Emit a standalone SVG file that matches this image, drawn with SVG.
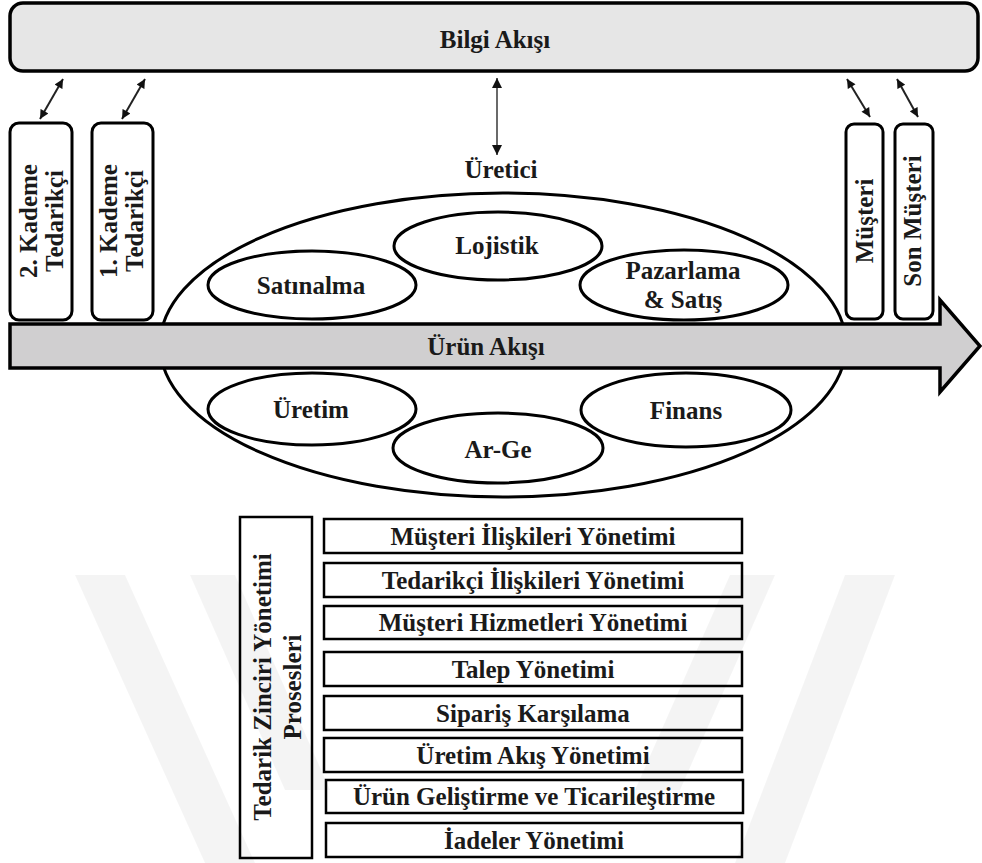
<svg xmlns="http://www.w3.org/2000/svg" width="982" height="863" viewBox="0 0 982 863">
  <defs>
    <style>
      .t { font-family: "Liberation Serif", "Times New Roman", serif; font-weight: bold; font-size: 25px; fill: #1a1a1a; text-anchor: middle; }
      .box { fill: #ffffff; stroke: #000000; stroke-width: 3; }
      .oval { fill: #ffffff; stroke: #000000; stroke-width: 3; }
      .proc { fill: #ffffff; stroke: #000000; stroke-width: 2.5; }
      .link { stroke: #222222; stroke-width: 2; fill: none; marker-start: url(#head); marker-end: url(#head); }
      .vlink { stroke: #444444; stroke-width: 1.6; fill: none; marker-start: url(#headv); marker-end: url(#headv); }
      .mark { fill: #000000; opacity: 0.045; }
    </style>
    <marker id="head" viewBox="0 0 10 10" refX="10" refY="5" markerWidth="10" markerHeight="9" markerUnits="userSpaceOnUse" orient="auto-start-reverse">
      <path d="M0,0 L10,5 L0,10 Z" fill="#111111"/>
    </marker>
    <marker id="headv" viewBox="0 0 10 10" refX="10" refY="5" markerWidth="11" markerHeight="10" markerUnits="userSpaceOnUse" orient="auto-start-reverse">
      <path d="M0,0 L10,5 L0,10 Z" fill="#111111"/>
    </marker>
  </defs>

  <rect x="0" y="0" width="982" height="863" fill="#ffffff"/>

  <!-- information flow bar -->
  <g id="bilgi-akisi">
    <rect x="10" y="3" width="968" height="68" rx="13" ry="13" fill="#e6e6e6" stroke="#000000" stroke-width="3.5"/>
    <text class="t" x="495" y="48">Bilgi Akışı</text>
  </g>

  <!-- producer ellipse -->
  <g id="uretici">
    <text class="t" x="501" y="178">Üretici</text>
    <ellipse class="oval" cx="503" cy="345" rx="343" ry="152"/>
  </g>

  <g id="satinalma">
    <ellipse class="oval" cx="312" cy="285" rx="104" ry="34"/>
    <text class="t" x="311" y="294">Satınalma</text>
  </g>
  <g id="lojistik">
    <ellipse class="oval" cx="498" cy="246" rx="104" ry="34"/>
    <text class="t" x="497" y="254">Lojistik</text>
  </g>
  <g id="pazarlama-satis">
    <ellipse class="oval" cx="684" cy="285" rx="104" ry="35"/>
    <text class="t" x="683" y="279">Pazarlama</text>
    <text class="t" x="683" y="308">&amp; Satış</text>
  </g>
  <g id="uretim">
    <ellipse class="oval" cx="312" cy="409" rx="104" ry="36"/>
    <text class="t" x="311" y="418">Üretim</text>
  </g>
  <g id="ar-ge">
    <ellipse class="oval" cx="498" cy="448" rx="105" ry="35"/>
    <text class="t" x="498" y="458">Ar-Ge</text>
  </g>
  <g id="finans">
    <ellipse class="oval" cx="686" cy="410" rx="105" ry="37"/>
    <text class="t" x="686" y="419">Finans</text>
  </g>

  <!-- supply chain members -->
  <g id="kademe-2">
    <rect class="box" x="10" y="123" width="62" height="197" rx="9" ry="9"/>
    <text class="t" transform="translate(37,221) rotate(-90)">2. Kademe</text>
    <text class="t" transform="translate(63,221) rotate(-90)">Tedarikçi</text>
  </g>
  <g id="kademe-1">
    <rect class="box" x="92" y="123" width="61" height="197" rx="9" ry="9"/>
    <text class="t" transform="translate(117,221) rotate(-90)">1. Kademe</text>
    <text class="t" transform="translate(143,221) rotate(-90)">Tedarikçi</text>
  </g>
  <g id="musteri">
    <rect class="box" x="846" y="124" width="37" height="195" rx="8" ry="8"/>
    <text class="t" transform="translate(873,221) rotate(-90)">Müşteri</text>
  </g>
  <g id="son-musteri">
    <rect class="box" x="895" y="124" width="38" height="195" rx="8" ry="8"/>
    <text class="t" transform="translate(921,221) rotate(-90)">Son Müşteri</text>
  </g>

  <!-- product flow arrow -->
  <g id="urun-akisi">
    <path d="M10,324 L940,324 L940,300 L980,346 L940,392 L940,368 L10,368 Z" fill="#d0cfd0" stroke="#000000" stroke-width="3.5" stroke-linejoin="miter"/>
    <text class="t" x="486" y="355">Ürün Akışı</text>
  </g>

  <!-- information links -->
  <g id="connectors">
    <line class="link" x1="63" y1="79" x2="40" y2="119"/>
    <line class="link" x1="145" y1="79" x2="122" y2="119"/>
    <line class="link" x1="847" y1="79" x2="870" y2="117"/>
    <line class="link" x1="897" y1="79" x2="918" y2="117"/>
    <line class="vlink" x1="497" y1="78" x2="497" y2="155"/>
  </g>

  <!-- supply chain management processes -->
  <g id="tzy-prosesleri">
    <rect class="proc" x="240" y="517" width="72" height="341"/>
    <text class="t" transform="translate(271,687) rotate(-90)">Tedarik Zinciri Yönetimi</text>
    <text class="t" transform="translate(301,687) rotate(-90)">Prosesleri</text>
  </g>
  <g id="p1"><rect class="proc" x="324" y="519" width="418" height="34"/><text class="t" x="533" y="545">Müşteri İlişkileri Yönetimi</text></g>
  <g id="p2"><rect class="proc" x="324" y="563" width="418" height="34"/><text class="t" x="533" y="589">Tedarikçi İlişkileri Yönetimi</text></g>
  <g id="p3"><rect class="proc" x="324" y="606" width="418" height="33"/><text class="t" x="533" y="631">Müşteri Hizmetleri Yönetimi</text></g>
  <g id="p4"><rect class="proc" x="324" y="652" width="418" height="34"/><text class="t" x="533" y="678">Talep Yönetimi</text></g>
  <g id="p5"><rect class="proc" x="324" y="696" width="418" height="34"/><text class="t" x="533" y="722">Sipariş Karşılama</text></g>
  <g id="p6"><rect class="proc" x="324" y="738" width="418" height="34"/><text class="t" x="533" y="764">Üretim Akış Yönetimi</text></g>
  <g id="p7"><rect class="proc" x="326" y="780" width="417" height="33"/><text class="t" x="534" y="805">Ürün Geliştirme ve Ticarileştirme</text></g>
  <g id="p8"><rect class="proc" x="326" y="823" width="416" height="34"/><text class="t" x="534" y="849">İadeler Yönetimi</text></g>

  <!-- faint diagonal background bands -->
  <g id="bands">
    <polygon class="mark" points="75,575 125,575 255,863 205,863"/>
    <polygon class="mark" points="190,575 235,575 330,790 285,790"/>
    <polygon class="mark" points="845,575 895,575 785,863 735,863"/>
    <polygon class="mark" points="730,575 775,575 680,790 635,790"/>
  </g>
</svg>
